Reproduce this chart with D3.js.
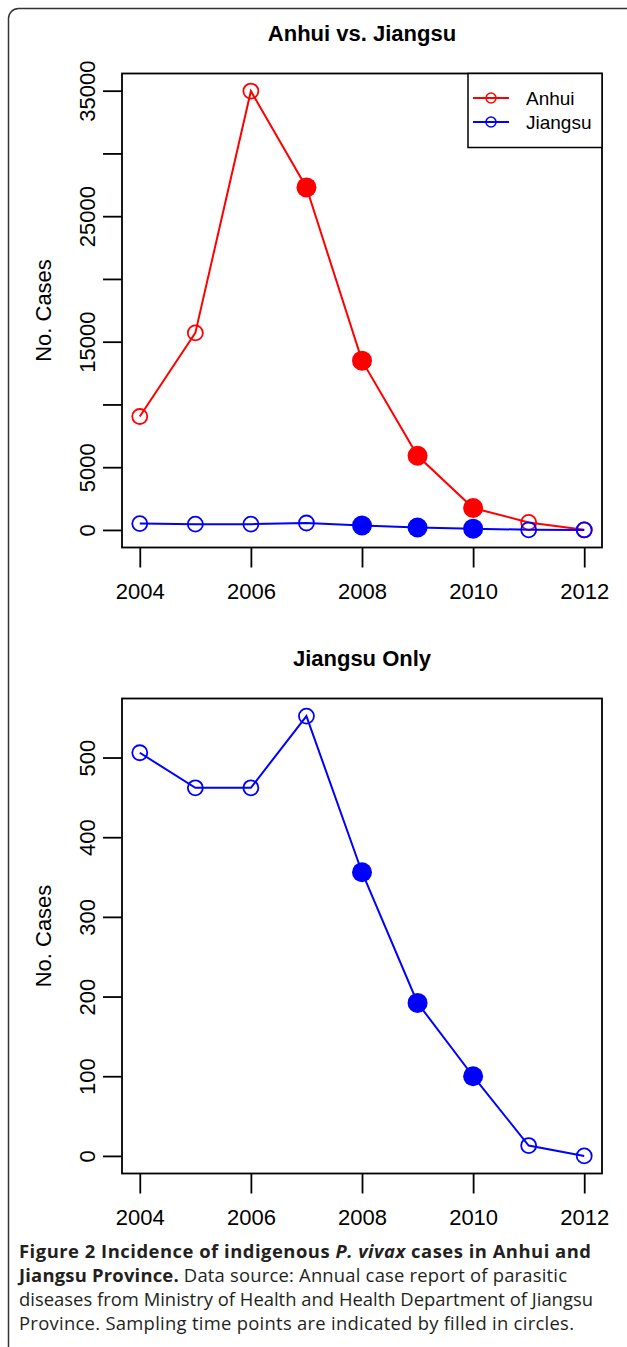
<!DOCTYPE html>
<meta charset="utf-8">
<style>

body {
  margin: 0;
  background: #fff;
}

svg {
  display: block;
}

.axis text,
.ylab {
  font: 22px "Liberation Sans", Arial, sans-serif;
  fill: #000;
}

.axis line {
  stroke: #000;
  stroke-width: 1.8px;
}

.title {
  font: bold 22px "Liberation Sans", Arial, sans-serif;
  fill: #000;
}

.legend text {
  font: 19px "Liberation Sans", Arial, sans-serif;
  fill: #000;
}

.caption {
  font-family: "Open Sans", sans-serif;
  fill: #231f20;
}

.series {
  fill: none;
  stroke-width: 2px;
}

</style>
<svg width="627" height="1347"></svg>
<script src="https://cdn.jsdelivr.net/npm/d3@7/dist/d3.min.js"></script>
<script>

// values
var years = [2004, 2005, 2006, 2007, 2008, 2009, 2010, 2011, 2012];
var anhui = [9040, 15700, 34970, 27290, 13490, 5910, 1750, 600, 10];
var jiangsu = [506, 462, 462, 552, 356, 192, 100, 13, 0];

// sampling years (filled circles)
var anhuiSampled = [2007, 2008, 2009, 2010];
var jiangsuSampled = [2008, 2009, 2010];

var xTicks = [2004, 2006, 2008, 2010, 2012];
var topTicks = [0, 5000, 10000, 15000, 20000, 25000, 30000, 35000];
var topLabels = [0, 5000, 15000, 25000, 35000];
var bottomTicks = [0, 100, 200, 300, 400, 500];

var legendNames = ["Anhui", "Jiangsu"];
var colors = { Anhui: "#ff0000", Jiangsu: "#0000ff" };

var svg = d3.select("svg");

// rounded frame around the figure
svg.append("rect")
    .attr("x", 8.5)
    .attr("y", 8.5)
    .attr("width", 640)
    .attr("height", 1370)
    .attr("rx", 10)
    .attr("fill", "none")
    .attr("stroke", "#333")
    .attr("stroke-width", 1.5);

// R style axis range: 4% padding on each side
function pad(e) {
  var r = e[1] - e[0];
  return [e[0] - 0.04 * r, e[1] + 0.04 * r];
}

var left = 122, right = 602;

var x = d3.scaleLinear()
    .domain(pad(d3.extent(years)))
    .range([left, right]);

function panel(top, bottom, title, series, ticks, labels, showLegend) {
  var all = [];
  series.forEach(function(s) { all = all.concat(s.values); });

  var y = d3.scaleLinear()
      .domain(pad(d3.extent(all)))
      .range([bottom, top]);

  var g = svg.append("g");

  g.append("text")
      .attr("class", "title")
      .attr("x", (left + right) / 2)
      .attr("y", top - 32.5)
      .attr("text-anchor", "middle")
      .text(title);

  // x axis
  var xa = g.append("g")
      .attr("class", "axis")
      .attr("transform", "translate(0," + bottom + ")")
      .call(d3.axisBottom(x).tickValues(xTicks).tickSize(20).tickPadding(16).tickFormat(d3.format("d")));
  xa.select(".domain").remove();
  xa.selectAll("text").attr("font-size", null).attr("font-family", null);

  // y axis
  var ya = g.append("g")
      .attr("class", "axis")
      .attr("transform", "translate(" + left + ",0)")
      .call(d3.axisLeft(y).tickValues(ticks).tickSize(19)
        .tickFormat(function(d) { return labels.indexOf(d) >= 0 ? d : ""; }));
  ya.select(".domain").remove();
  ya.selectAll("text")
      .attr("font-size", null)
      .attr("font-family", null)
      .attr("x", null)
      .attr("dy", "0.36em")
      .attr("text-anchor", "middle")
      .attr("transform", "translate(-35,0) rotate(-90)");

  g.append("text")
      .attr("class", "ylab")
      .attr("transform", "translate(43," + (top + bottom) / 2 + ") rotate(-90)")
      .attr("dy", "0.36em")
      .attr("text-anchor", "middle")
      .text("No. Cases");

  var line = d3.line()
      .x(function(d, i) { return x(years[i]); })
      .y(function(d) { return y(d); });

  series.forEach(function(s) {
    var c = colors[s.name];
    g.append("path")
        .attr("class", "series")
        .attr("stroke", c)
        .attr("d", line(s.values));

    g.selectAll(null)
      .data(s.values)
      .enter().append("circle")
        .attr("cx", function(d, i) { return x(years[i]); })
        .attr("cy", function(d) { return y(d); })
        .attr("r", function(d, i) { return s.sampled.indexOf(years[i]) >= 0 ? 10 : 7.5; })
        .attr("fill", function(d, i) { return s.sampled.indexOf(years[i]) >= 0 ? c : "none"; })
        .attr("stroke", c)
        .attr("stroke-width", function(d, i) { return s.sampled.indexOf(years[i]) >= 0 ? 0 : 1.8; });
  });

  // plot box
  g.append("rect")
      .attr("x", left)
      .attr("y", top)
      .attr("width", right - left)
      .attr("height", bottom - top)
      .attr("fill", "none")
      .attr("stroke", "#000")
      .attr("stroke-width", 1.8);

  if (showLegend) {
    var lg = g.append("g").attr("class", "legend");
    lg.append("rect")
        .attr("x", 468)
        .attr("y", top)
        .attr("width", right - 468)
        .attr("height", 74)
        .attr("fill", "#fff")
        .attr("stroke", "#000")
        .attr("stroke-width", 1.5);
    legendNames.forEach(function(n, i) {
      var ly = top + 24.5 + i * 24;
      lg.append("line")
          .attr("x1", 473).attr("x2", 509)
          .attr("y1", ly).attr("y2", ly)
          .attr("stroke", colors[n])
          .attr("stroke-width", 1.8);
      lg.append("circle")
          .attr("cx", 491).attr("cy", ly)
          .attr("r", 5)
          .attr("fill", "none")
          .attr("stroke", colors[n])
          .attr("stroke-width", 1.5);
      lg.append("text")
          .attr("x", 526)
          .attr("y", ly)
          .attr("dy", "0.36em")
          .text(n);
    });
  }
}

panel(73.5, 547.5, "Anhui vs. Jiangsu",
  [{ name: "Anhui", values: anhui, sampled: anhuiSampled },
   { name: "Jiangsu", values: jiangsu, sampled: jiangsuSampled }],
  topTicks, topLabels, true);

panel(698.5, 1173.5, "Jiangsu Only",
  [{ name: "Jiangsu", values: jiangsu, sampled: jiangsuSampled }],
  bottomTicks, bottomTicks, false);

// caption
var captionLines = [
  [["Figure 2 Incidence of indigenous ", "bold"], ["P. vivax", "bolditalic"], [" cases in Anhui and", "bold"]],
  [["Jiangsu Province.", "bold"], [" Data source: Annual case report of parasitic", "normal"]],
  [["diseases from Ministry of Health and Health Department of Jiangsu", "normal"]],
  [["Province. Sampling time points are indicated by filled in circles.", "normal"]]
];
// line widths measured on the reference
var captionWidths = [572, 548, 574, 555];

var cap = svg.append("g").attr("class", "caption").attr("font-size", 18);

captionLines.forEach(function(parts, i) {
  var t = cap.append("text")
      .attr("x", 19)
      .attr("y", 1258 + i * 24);
  parts.forEach(function(p) {
    t.append("tspan")
        .attr("font-weight", p[1] === "normal" ? 400 : 700)
        .attr("font-style", p[1] === "bolditalic" ? "italic" : "normal")
        .text(p[0]);
  });
});

// size the caption so the longest plain line fits, then stretch each line
var w = cap.selectAll("text").nodes()[2].getComputedTextLength();
cap.attr("font-size", 18 * captionWidths[2] / w);
cap.selectAll("text")
    .attr("textLength", function(d, i) { return captionWidths[i]; })
    .attr("lengthAdjust", "spacing");

</script>
